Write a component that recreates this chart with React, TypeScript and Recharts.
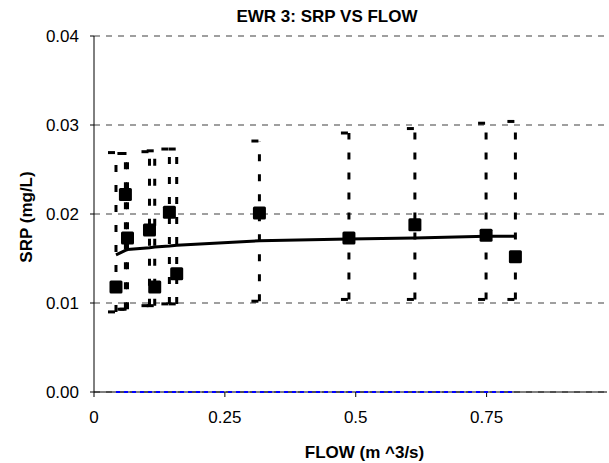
import React from "react";
import {
	CartesianGrid,
	ErrorBar,
	Label,
	Scatter,
	ScatterChart,
	XAxis,
	YAxis,
} from "recharts";

// flow (m^3/s) for each sample
const flow = [0.042, 0.06, 0.064, 0.106, 0.116, 0.144, 0.158, 0.316, 0.487, 0.613, 0.749, 0.805];
// measured SRP (mg/L)
const srp = [0.0118, 0.0222, 0.0173, 0.0182, 0.0118, 0.0202, 0.0133, 0.0201, 0.0173, 0.0188, 0.0176, 0.0152];
// fitted curve
const trend = [0.0154, 0.0159, 0.016, 0.0162, 0.0163, 0.0164, 0.0165, 0.017, 0.0172, 0.0173, 0.0175, 0.0175];
// interval limits
const upper = [0.0269, 0.0268, 0.0268, 0.027, 0.0271, 0.0273, 0.0273, 0.0282, 0.0291, 0.0296, 0.0302, 0.0304];
const lower = [0.009, 0.0093, 0.0093, 0.0097, 0.0097, 0.0099, 0.0099, 0.0102, 0.0104, 0.0104, 0.0104, 0.0104];
const baseline = [0, 0, 0, 0, 0, 0, 0, 0, 0, 0, 0, 0];

const xTicks = [0, 0.25, 0.5, 0.75];
const yTicks = [0, 0.01, 0.02, 0.03, 0.04];

const points = flow.map((x, i) => ({ x, y: srp[i] }));
const trendPoints = flow.map((x, i) => ({ x, y: trend[i] }));
const zeroPoints = flow.map((x, i) => ({ x, y: baseline[i] }));
const bands = flow.map((x, i) => ({
	x,
	y: trend[i],
	err: [trend[i] - lower[i], upper[i] - trend[i]],
}));

const font = "'Liberation Sans', Arial, sans-serif";

const Square = (props: any) => (
	<rect x={props.cx - 6.5} y={props.cy - 6.5} width={13} height={13} rx={1.5} fill="#000" />
);
const Nothing = () => <g />;

const App = () => {
	return (
		<div style={{ position: "absolute", left: 0, top: 0, width: 609, height: 463, background: "#fff" }}>
			<style>{"body{margin:0}"}</style>
			<div
				style={{
					position: "absolute",
					left: 227,
					width: 200,
					top: 6,
					textAlign: "center",
					fontFamily: font,
					fontWeight: "bold",
					fontSize: 17,
					lineHeight: "22px",
					color: "#000",
				}}
			>
				EWR 3: SRP VS FLOW
			</div>
			<ScatterChart
				width={609}
				height={463}
				margin={{ top: 36, right: 2, bottom: 41, left: 34 }}
				style={{ fontFamily: font }}
			>
				<CartesianGrid vertical={false} stroke="#808080" strokeWidth={1.5} strokeDasharray="6 6" />
				<XAxis
					type="number"
					dataKey="x"
					domain={[0, 0.98]}
					ticks={xTicks}
					allowDataOverflow
					height={30}
					stroke="#000"
					tickSize={5}
					tickMargin={14}
					tick={{ fill: "#000", fontSize: 17 }}
				>
					<Label
						content={({ viewBox }: any) => (
							<text
								x={viewBox.x + viewBox.width / 2 + 14}
								y={viewBox.y + 66}
								textAnchor="middle"
								fontWeight="bold"
								fontSize={17}
								fill="#000"
							>
								FLOW (m ^3/s)
							</text>
						)}
					/>
				</XAxis>
				<YAxis
					type="number"
					dataKey="y"
					domain={[0, 0.04]}
					ticks={yTicks}
					width={60}
					stroke="#000"
					tickSize={4}
					tickMargin={11}
					tickFormatter={(v: number) => v.toFixed(2)}
					tick={{ fill: "#000", fontSize: 17 }}
				>
					<Label
						content={({ viewBox }: any) => {
							const cx = viewBox.x - 8;
							const cy = viewBox.y + viewBox.height / 2 + 3;
							return (
								<text
									x={cx}
									y={cy}
									transform={`rotate(-90, ${cx}, ${cy})`}
									textAnchor="middle"
									dominantBaseline="central"
									fontWeight="bold"
									fontSize={17}
									fill="#000"
								>
									SRP (mg/L)
								</text>
							);
						}}
					/>
				</YAxis>
				<Scatter data={bands} shape={Nothing} isAnimationActive={false}>
					<ErrorBar
						dataKey="err"
						direction="y"
						width={8}
						stroke="#000"
						strokeWidth={3}
						strokeDasharray="7 13"
					/>
				</Scatter>
				<Scatter
					data={zeroPoints}
					shape={Nothing}
					line={{ stroke: "#0000ff", strokeWidth: 2, strokeDasharray: "4 4" }}
					isAnimationActive={false}
				/>
				<Scatter
					data={trendPoints}
					shape={Nothing}
					line={{ stroke: "#000", strokeWidth: 3 }}
					isAnimationActive={false}
				/>
				<Scatter data={points} shape={Square} isAnimationActive={false} />
			</ScatterChart>
		</div>
	);
};

export default App;
